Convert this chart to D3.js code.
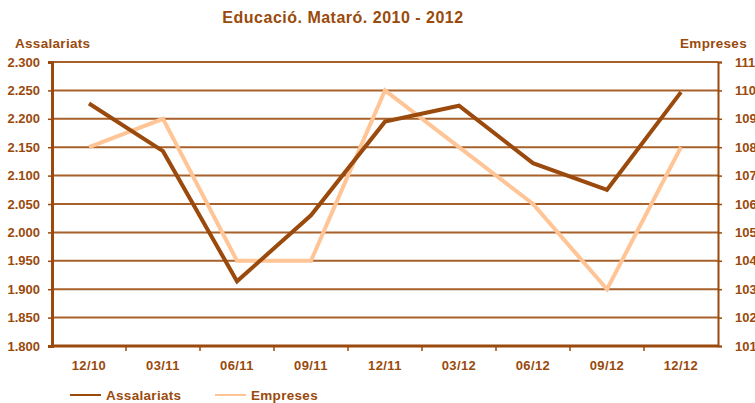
<!DOCTYPE html>
<meta charset="utf-8">
<head>
    <title>Educació. Mataró. 2010 - 2012</title>
    <style>
        body { margin: 0; background: #fff; }
        text { font-family: "Liberation Sans", Arial, sans-serif; font-weight: bold; fill: #9A4A0C; }
    </style>
</head>
<body>
<script src="https://d3js.org/d3.v7.min.js"></script>
<script>
    // data
    var periods = ["12/10", "03/11", "06/11", "09/11", "12/11", "03/12", "06/12", "09/12", "12/12"];
    var assalariats = [2227, 2143, 1914, 2030, 2195, 2223, 2122, 2075, 2247];
    var empreses = [108, 109, 104, 104, 110, 108, 106, 103, 108];
    var leftTicks = [1800, 1850, 1900, 1950, 2000, 2050, 2100, 2150, 2200, 2250, 2300];
    var rightTicks = [101, 102, 103, 104, 105, 106, 107, 108, 109, 110, 111];

    var dark = "#9A4A0C", light = "#FFC596", grid = "#A8612A";
    var margin = { top: 62, right: 37, bottom: 57, left: 52 },
        width = 755 - margin.left - margin.right,
        height = 403 - margin.top - margin.bottom;

    var svg = d3.select("body").append("svg")
        .attr("width", 755).attr("height", 403);

    var g = svg.append("g")
        .attr("transform", "translate(" + margin.left + "," + margin.top + ")");

    var x = d3.scaleBand().domain(periods).range([0, width]);
    var yL = d3.scaleLinear().domain([1800, 2300]).range([height, 0]);
    var yR = d3.scaleLinear().domain([101, 111]).range([height, 0]);

    var fmt = function(d) { return d3.format(",")(d).replace(",", "."); };

    // gridlines
    g.selectAll(".grid").data(leftTicks.slice(1))
        .enter().append("line")
        .attr("x1", 0).attr("x2", width)
        .attr("y1", function(d) { return yL(d); })
        .attr("y2", function(d) { return yL(d); })
        .attr("stroke", grid).attr("stroke-width", 2);

    // left axis
    var left = g.append("g").call(d3.axisLeft(yL).tickValues(leftTicks).tickFormat(fmt).tickSize(4).tickPadding(8));
    left.select(".domain").attr("stroke", dark).attr("stroke-width", 3);
    left.selectAll(".tick line").attr("stroke", dark).attr("stroke-width", 1.5);
    left.selectAll("text").style("font-size", "13px").style("fill", dark);

    // right axis
    var right = g.append("g").attr("transform", "translate(" + width + ",0)")
        .call(d3.axisRight(yR).tickValues(rightTicks).tickSize(4).tickPadding(13));
    right.select(".domain").attr("stroke", dark).attr("stroke-width", 2);
    right.selectAll(".tick line").attr("stroke", dark).attr("stroke-width", 1.5);
    right.selectAll("text").style("font-size", "13px").style("fill", dark);

    // bottom axis
    g.append("line").attr("x1", 0).attr("x2", width).attr("y1", height).attr("y2", height)
        .attr("stroke", dark).attr("stroke-width", 3);
    g.selectAll(".xtick").data(periods.slice(1))
        .enter().append("line")
        .attr("x1", function(d) { return x(d); }).attr("x2", function(d) { return x(d); })
        .attr("y1", height).attr("y2", height + 5)
        .attr("stroke", dark).attr("stroke-width", 1.5);
    g.selectAll(".xlabel").data(periods)
        .enter().append("text")
        .attr("x", function(d) { return x(d) + x.bandwidth() / 2; })
        .attr("y", height + 24)
        .attr("text-anchor", "middle")
        .style("font-size", "13px")
        .style("letter-spacing", "0.4px")
        .text(function(d) { return d; });

    // lines
    var lineL = d3.line()
        .x(function(d, i) { return x(periods[i]) + x.bandwidth() / 2; })
        .y(function(d) { return yL(d); });
    var lineR = d3.line()
        .x(function(d, i) { return x(periods[i]) + x.bandwidth() / 2; })
        .y(function(d) { return yR(d); });

    g.append("path").datum(empreses).attr("d", lineR)
        .attr("fill", "none").attr("stroke", light).attr("stroke-width", 4);
    g.append("path").datum(assalariats).attr("d", lineL)
        .attr("fill", "none").attr("stroke", dark).attr("stroke-width", 4);

    // titles
    svg.append("text").attr("x", 343).attr("y", 23).attr("text-anchor", "middle")
        .style("font-size", "16px").style("letter-spacing", "0.5px")
        .text("Educació. Mataró. 2010 - 2012");
    svg.append("text").attr("x", 15).attr("y", 48)
        .style("font-size", "13.5px").style("letter-spacing", "0.3px").text("Assalariats");
    svg.append("text").attr("x", 747).attr("y", 48).attr("text-anchor", "end")
        .style("font-size", "13.5px").style("letter-spacing", "0.3px").text("Empreses");

    // legend
    var legend = svg.append("g");
    var items = [{ name: "Assalariats", color: dark, x: 70 }, { name: "Empreses", color: light, x: 215 }];
    items.forEach(function(it) {
        legend.append("line").attr("x1", it.x).attr("x2", it.x + 31)
            .attr("y1", 395).attr("y2", 395)
            .attr("stroke", it.color).attr("stroke-width", 2);
        legend.append("text").attr("x", it.x + 36).attr("y", 400)
            .style("font-size", "13.5px").style("letter-spacing", "0.3px").text(it.name);
    });
</script>
</body>
</html>
